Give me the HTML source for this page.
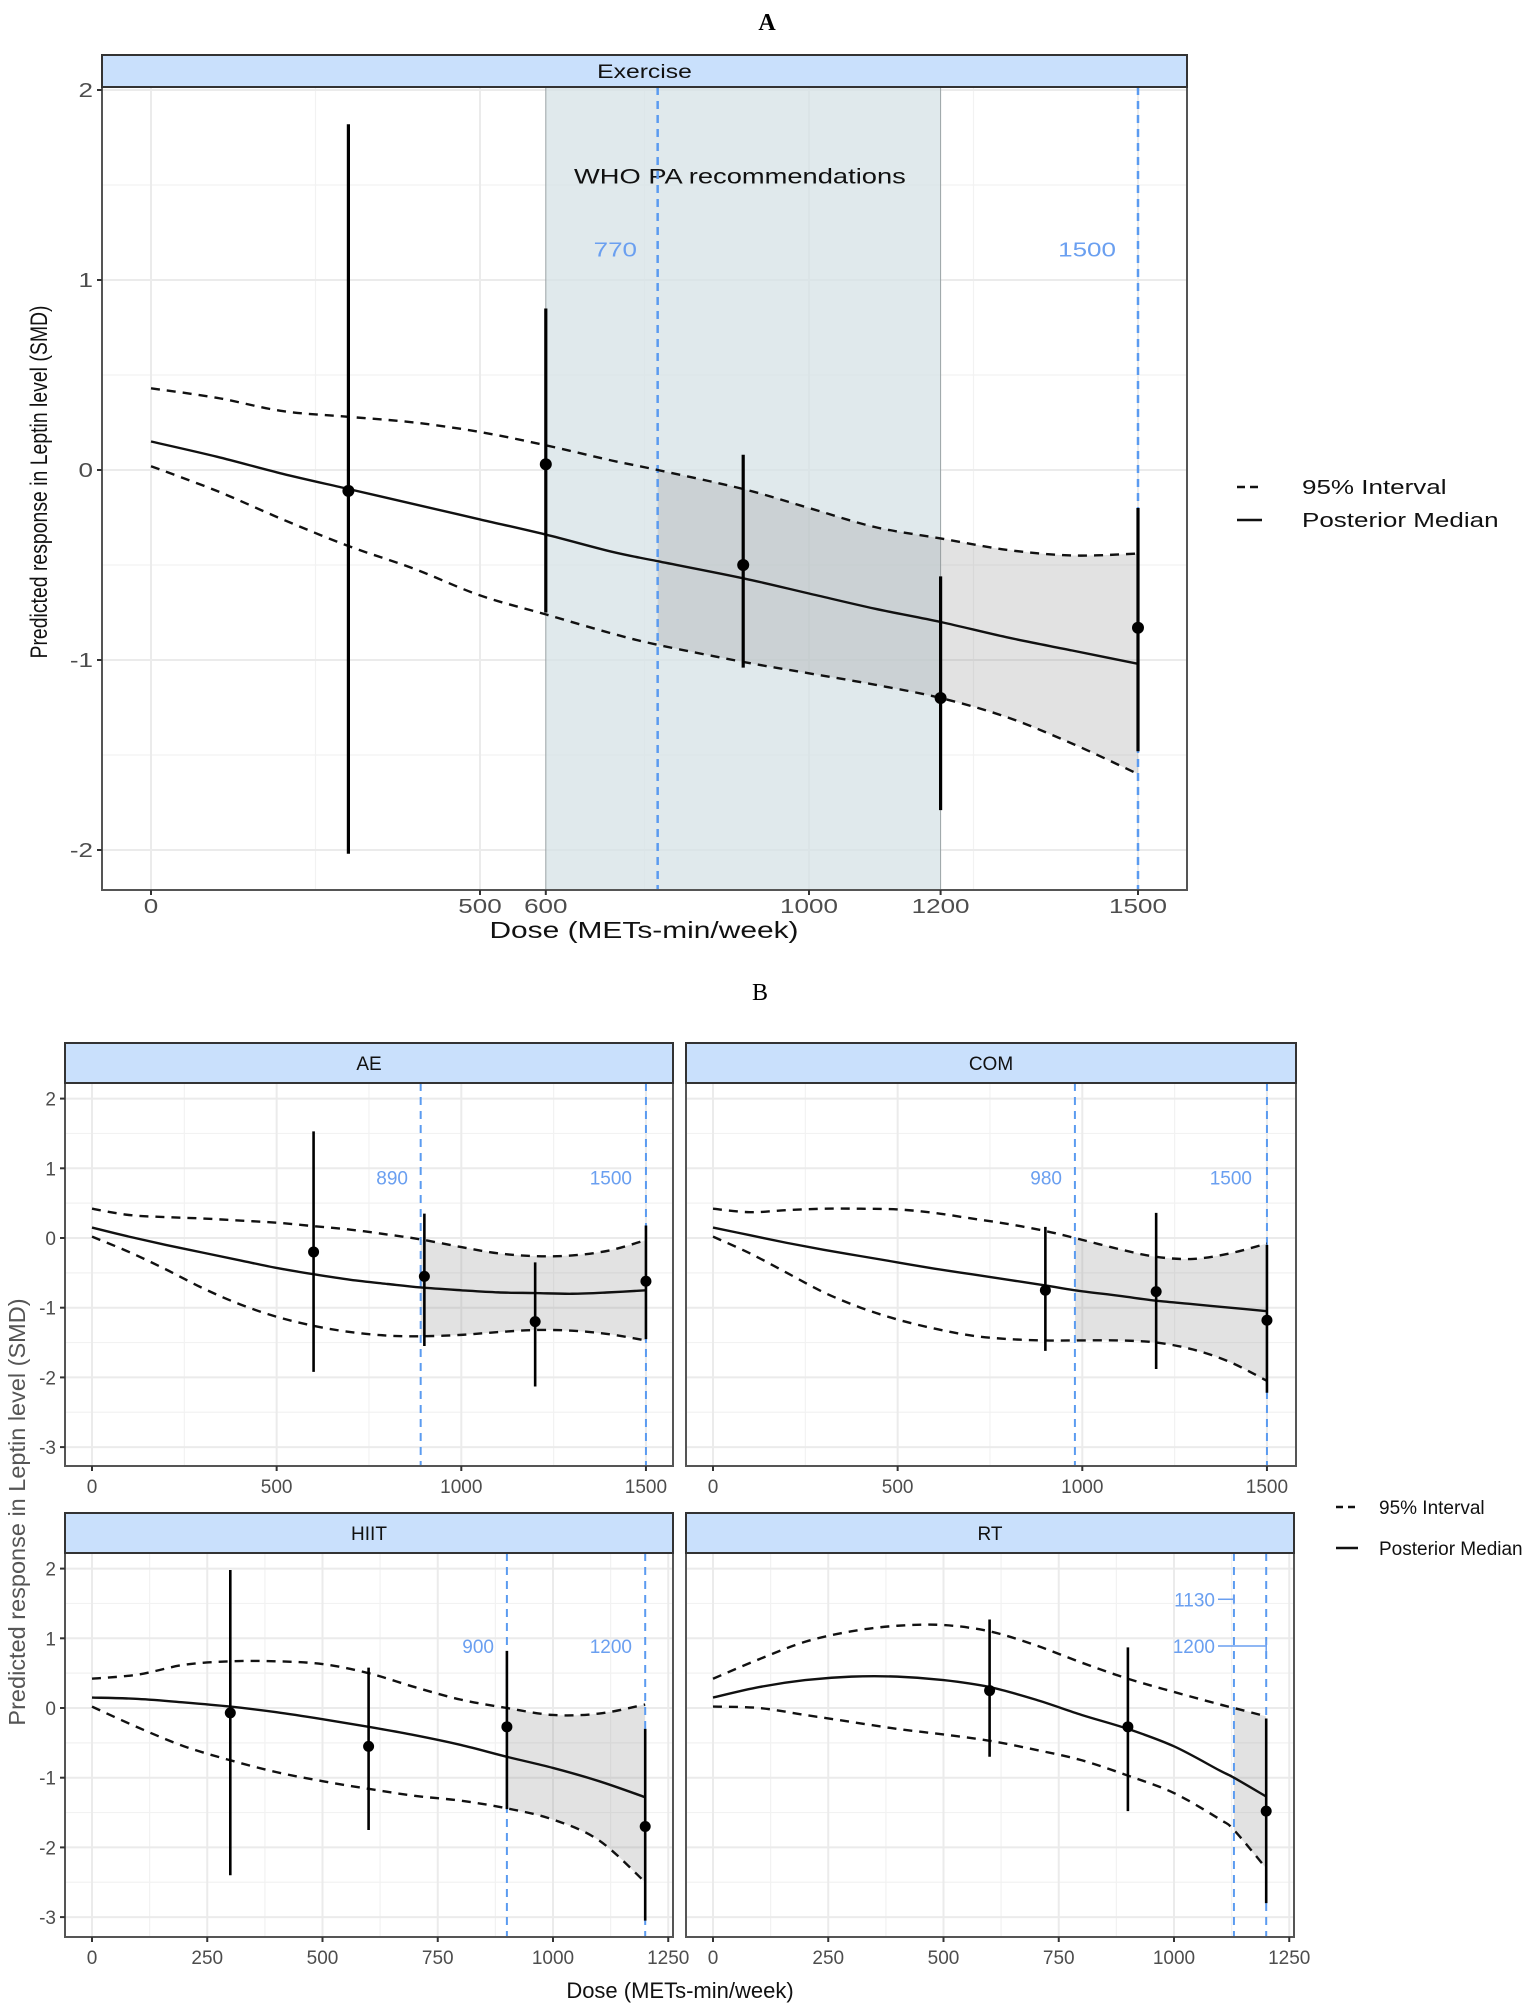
<!DOCTYPE html>
<html><head><meta charset="utf-8"><style>
html,body{margin:0;padding:0;background:#fff;}
svg{display:block;font-family:"Liberation Sans",Arial,sans-serif;}
</style></head><body>
<svg id="chart" width="1535" height="2009" viewBox="0 0 1535 2009" xmlns="http://www.w3.org/2000/svg">
<text x="767" y="30" font-family="Liberation Serif,serif" font-weight="bold" font-size="24" text-anchor="middle">A</text>
<text x="760" y="1000" font-family="Liberation Serif,serif" font-size="24" text-anchor="middle">B</text>
<text transform="translate(47,482) rotate(-90)" font-size="24" fill="#111" text-anchor="middle" textLength="353" lengthAdjust="spacingAndGlyphs">Predicted response in Leptin level (SMD)</text>
<text class="stA" x="644" y="938" font-size="23" fill="#111" text-anchor="middle">Dose (METs-min/week)</text>
<text transform="translate(25,1512) rotate(-90)" font-size="23.5" fill="#555" text-anchor="middle">Predicted response in Leptin level (SMD)</text>
<text x="680" y="1998" font-size="22" fill="#111" text-anchor="middle">Dose (METs-min/week)</text>
<g>
<line x1="1237" y1="487" x2="1262" y2="487" stroke="#111" stroke-width="2.5" stroke-dasharray="8,5"/>
<text class="stA" x="1302" y="494" font-size="20" fill="#111">95% Interval</text>
<line x1="1237" y1="520" x2="1262" y2="520" stroke="#111" stroke-width="2.5"/>
<text class="stA" x="1302" y="527" font-size="20" fill="#111">Posterior Median</text>
</g>
<g>
<line x1="1336" y1="1507" x2="1358" y2="1507" stroke="#111" stroke-width="2.5" stroke-dasharray="7,5"/>
<text x="1379" y="1514" font-size="19" fill="#111">95% Interval</text>
<line x1="1336" y1="1548" x2="1358" y2="1548" stroke="#111" stroke-width="2.5"/>
<text x="1379" y="1555" font-size="19" fill="#111">Posterior Median</text>
</g>
</svg>
<script>
// ---------- Panel A: Exercise ----------
const exDose   = [0,100,200,300,400,500,600,700,770,900,1000,1100,1200,1300,1400,1500];
const exMedian = [0.15,0.07,-0.02,-0.1,-0.18,-0.26,-0.34,-0.43,-0.48,-0.57,-0.65,-0.73,-0.8,-0.88,-0.95,-1.02];
const exUpper  = [0.43,0.38,0.31,0.28,0.25,0.2,0.13,0.05,0.0,-0.1,-0.2,-0.3,-0.36,-0.42,-0.45,-0.44];
const exLower  = [0.02,-0.11,-0.26,-0.4,-0.52,-0.66,-0.76,-0.86,-0.92,-1.01,-1.07,-1.13,-1.2,-1.3,-1.44,-1.6];
const exPtDose = [300,600,900,1200,1500];
const exPtEst  = [-0.11,0.03,-0.5,-1.2,-0.83];
const exPtLo   = [-2.02,-0.75,-1.04,-1.79,-1.48];
const exPtHi   = [1.82,0.85,0.08,-0.56,-0.2];
const exRefs   = [770,1500];
const exWho    = [600,1200];
// ---------- Panel B: AE ----------
const aeDose   = [0,100,200,300,400,500,600,700,800,890,1000,1100,1200,1300,1400,1500];
const aeMedian = [0.15,0.02,-0.1,-0.21,-0.32,-0.43,-0.52,-0.6,-0.66,-0.71,-0.75,-0.78,-0.79,-0.8,-0.78,-0.75];
const aeUpper  = [0.42,0.33,0.3,0.28,0.25,0.22,0.17,0.12,0.05,-0.02,-0.13,-0.22,-0.26,-0.25,-0.18,-0.03];
const aeLower  = [0.02,-0.2,-0.45,-0.72,-0.95,-1.13,-1.26,-1.35,-1.4,-1.41,-1.39,-1.35,-1.32,-1.33,-1.38,-1.47];
const aePtDose = [600,900,1200,1500];
const aePtEst  = [-0.2,-0.55,-1.2,-0.62];
const aePtLo   = [-1.92,-1.55,-2.13,-1.45];
const aePtHi   = [1.53,0.35,-0.35,0.18];
const aeRefs   = [890,1500];
// ---------- Panel B: COM ----------
const comDose   = [0,100,200,300,400,500,600,700,800,900,980,1100,1200,1300,1400,1500];
const comMedian = [0.15,0.04,-0.07,-0.17,-0.26,-0.35,-0.44,-0.52,-0.6,-0.68,-0.75,-0.83,-0.9,-0.95,-1.0,-1.05];
const comUpper  = [0.42,0.37,0.4,0.42,0.42,0.41,0.36,0.28,0.2,0.1,0.0,-0.16,-0.27,-0.3,-0.22,-0.08];
const comLower  = [0.02,-0.22,-0.5,-0.78,-1.0,-1.17,-1.3,-1.4,-1.45,-1.47,-1.47,-1.47,-1.5,-1.6,-1.78,-2.05];
const comPtDose = [900,1200,1500];
const comPtEst  = [-0.75,-0.77,-1.18];
const comPtLo   = [-1.62,-1.88,-2.22];
const comPtHi   = [0.16,0.36,-0.1];
const comRefs   = [980,1500];
// ---------- Panel B: HIIT ----------
const hiitDose   = [0,100,200,300,400,500,600,700,800,900,1000,1100,1200];
const hiitMedian = [0.15,0.13,0.08,0.02,-0.06,-0.16,-0.27,-0.39,-0.53,-0.7,-0.86,-1.05,-1.28];
const hiitUpper  = [0.42,0.48,0.62,0.67,0.67,0.63,0.5,0.3,0.12,0.0,-0.1,-0.08,0.05];
const hiitLower  = [0.02,-0.28,-0.55,-0.75,-0.92,-1.05,-1.16,-1.26,-1.33,-1.44,-1.6,-1.9,-2.5];
const hiitPtDose = [300,600,900,1200];
const hiitPtEst  = [-0.07,-0.55,-0.27,-1.7];
const hiitPtLo   = [-2.4,-1.75,-1.45,-3.05];
const hiitPtHi   = [1.98,0.58,0.82,-0.3];
const hiitRefs   = [900,1200];
// ---------- Panel B: RT ----------
const rtDose   = [0,100,200,300,400,500,600,700,800,900,1000,1100,1130,1200];
const rtMedian = [0.15,0.3,0.4,0.45,0.45,0.4,0.3,0.12,-0.1,-0.3,-0.55,-0.9,-1.0,-1.27];
const rtUpper  = [0.42,0.7,0.95,1.1,1.18,1.19,1.1,0.9,0.65,0.42,0.23,0.05,0.0,-0.12];
const rtLower  = [0.02,0.0,-0.1,-0.2,-0.3,-0.38,-0.47,-0.6,-0.75,-0.97,-1.22,-1.6,-1.75,-2.3];
const rtPtDose = [600,900,1200];
const rtPtEst  = [0.25,-0.27,-1.48];
const rtPtLo   = [-0.7,-1.48,-2.8];
const rtPtHi   = [1.27,0.87,-0.15];
const rtRefs   = [1130,1200];

const NS='http://www.w3.org/2000/svg';
const svg=document.getElementById('chart');
function mk(tag,attrs,parent){const e=document.createElementNS(NS,tag);for(const k in attrs)e.setAttribute(k,attrs[k]);(parent||svg).appendChild(e);return e;}
function catmull(pts){let d='M'+pts[0][0]+','+pts[0][1];for(let i=0;i<pts.length-1;i++){const p0=pts[i-1]||pts[i],p1=pts[i],p2=pts[i+1],p3=pts[i+2]||p2;const c1x=p1[0]+(p2[0]-p0[0])/6,c1y=p1[1]+(p2[1]-p0[1])/6,c2x=p2[0]-(p3[0]-p1[0])/6,c2y=p2[1]-(p3[1]-p1[1])/6;d+=' C'+c1x+','+c1y+' '+c2x+','+c2y+' '+p2[0]+','+p2[1];}return d;}
function interp(xs,ys,x){for(let i=0;i<xs.length-1;i++){if(x>=xs[i]&&x<=xs[i+1]){const t=(x-xs[i])/(xs[i+1]-xs[i]);return ys[i]+t*(ys[i+1]-ys[i]);}}return ys[ys.length-1];}
function stretch(el,f){const w=el.getComputedTextLength();if(w>0){el.setAttribute('textLength',w*f);el.setAttribute('lengthAdjust','spacingAndGlyphs');}}

function panel(c){
  const g=mk('g',{});
  
  
  const X=v=>c.x0+v*c.xs, Y=v=>c.y0-v*c.ys;
  mk('rect',{x:c.left,y:c.top,width:c.right-c.left,height:c.bottom-c.top,fill:'#fff'},g);
  c.yminor.forEach(v=>mk('line',{x1:c.left,x2:c.right,y1:Y(v),y2:Y(v),stroke:'#f2f2f2','stroke-width':1.2},g));
  c.xminor.forEach(v=>mk('line',{x1:X(v),x2:X(v),y1:c.top,y2:c.bottom,stroke:'#f2f2f2','stroke-width':1.2},g));
  c.ymajor.forEach(v=>mk('line',{x1:c.left,x2:c.right,y1:Y(v),y2:Y(v),stroke:'#ebebeb','stroke-width':2},g));
  c.xmajor.forEach(v=>mk('line',{x1:X(v),x2:X(v),y1:c.top,y2:c.bottom,stroke:'#ebebeb','stroke-width':2},g));
  if(c.who){
    const w=mk('rect',{x:X(c.who[0]),y:c.top,width:X(c.who[1])-X(c.who[0]),height:c.bottom-c.top,fill:'#d6e1e5','fill-opacity':0.75,stroke:'#9aa3a6','stroke-width':1},g);
    
    
    const wt=mk('text',{x:X(c.whoLabelX),y:Y(1.55)+8,'font-size':21,fill:'#111','text-anchor':'middle'},g);
    wt.textContent='WHO PA recommendations';
  }
  const r0=c.refs[0], r1=c.refs[1];
  const up=[[X(r0),Y(interp(c.dose,c.upper,r0))]], lo=[[X(r0),Y(interp(c.dose,c.lower,r0))]];
  c.dose.forEach((d,i)=>{if(d>r0&&d<=r1){up.push([X(d),Y(c.upper[i])]);lo.push([X(d),Y(c.lower[i])]);}});
  const rib=mk('path',{d:catmull(up)+' L'+catmull(lo.slice().reverse()).slice(1)+' Z',fill:'#8c8c8c','fill-opacity':0.25},g);
  
  
  c.refs.forEach((v,i)=>{
    const l=mk('line',{x1:X(v),x2:X(v),y1:c.top,y2:c.bottom,stroke:'#5b9bf0','stroke-width':c.refW,'stroke-dasharray':'8,6'},g);
    
    
  });
  c.refLabels.forEach(L=>{
    const t=mk('text',{x:L.tx,y:Y(L.y)+7,'font-size':c.lblSize,fill:'#6a9ff0','text-anchor':'end'},g);
    t.textContent=L.text;
    
    
    if(L.bracket){mk('line',{x1:L.tx+3,x2:X(L.bracket),y1:Y(L.y),y2:Y(L.y),stroke:'#6a9ff0','stroke-width':1.5},g);mk('line',{x1:X(L.bracket),x2:X(L.bracket),y1:Y(L.y)-5,y2:Y(L.y)+5,stroke:'#6a9ff0','stroke-width':1.5},g);}
  });
  const pU=c.dose.map((d,i)=>[X(d),Y(c.upper[i])]), pL=c.dose.map((d,i)=>[X(d),Y(c.lower[i])]), pM=c.dose.map((d,i)=>[X(d),Y(c.median[i])]);
  const cu=mk('path',{d:catmull(pU),fill:'none',stroke:'#111','stroke-width':2.4,'stroke-dasharray':'9,7'},g);
  
  
  const cl=mk('path',{d:catmull(pL),fill:'none',stroke:'#111','stroke-width':2.4,'stroke-dasharray':'9,7'},g);
  
  
  const cm=mk('path',{d:catmull(pM),fill:'none',stroke:'#111','stroke-width':2.4},g);
  
  
  c.ptDose.forEach((d,i)=>{
    const e=mk('line',{x1:X(d),x2:X(d),y1:Y(c.ptLo[i]),y2:Y(c.ptHi[i]),stroke:'#000','stroke-width':c.ebW},g);
    
    
    const p=mk('circle',{cx:X(d),cy:Y(c.ptEst[i]),r:c.ptR,fill:'#000'},g);
    
    
  });
  mk('rect',{x:c.left,y:c.top,width:c.right-c.left,height:c.bottom-c.top,fill:'none',stroke:'#555','stroke-width':2},g);
  const s=mk('rect',{x:c.left,y:c.stripTop,width:c.right-c.left,height:c.top-c.stripTop,fill:'#c9e0fc',stroke:'#333','stroke-width':2},g);
  
  
  const st=mk('text',{x:(c.left+c.right)/2,y:(c.stripTop+c.top)/2+7,'font-size':19,fill:'#111','text-anchor':'middle'},g);
  st.textContent=c.title;
  c.yticks.forEach((v,i)=>{
    mk('line',{x1:c.left-5,x2:c.left,y1:Y(v),y2:Y(v),stroke:'#333','stroke-width':2},g);
    const t=mk('text',{x:c.left-9,y:Y(v)+7,'font-size':c.tickSize,fill:'#4d4d4d','text-anchor':'end'},g);
    t.textContent=c.yLabels[i];
  });
  c.xticks.forEach((v,i)=>{
    mk('line',{x1:X(v),x2:X(v),y1:c.bottom,y2:c.bottom+5,stroke:'#333','stroke-width':2},g);
    const t=mk('text',{x:X(v),y:c.bottom+c.tickSize+c.xLabOff,'font-size':c.tickSize,fill:'#4d4d4d','text-anchor':'middle'},g);
    t.textContent=c.xLabels[i];
  });
  if(c.stretch){g.querySelectorAll('text').forEach(t=>stretch(t,c.stretch));}
}

const yTicksB=[2,1,0,-1,-2,-3], yLabelsB=['2','1','0','-1','-2','-3'];
const yMinorB=[1.5,0.5,-0.5,-1.5,-2.5];
const xTicks1500=[0,500,1000,1500], xLabels1500=['0','500','1000','1500'];
const xTicks1250=[0,250,500,750,1000,1250], xLabels1250=['0','250','500','750','1000','1250'];

panel({name:'panel-exercise',title:'Exercise',left:102,right:1187,stripTop:55,top:87,bottom:890,x0:151,xs:0.658,y0:470,ys:190,
  xmajor:[0,500,1000,1500],xminor:[250,750,1250],ymajor:[2,1,0,-1,-2],yminor:[1.5,0.5,-0.5,-1.5],
  who:exWho,whoLabelX:895,dose:exDose,median:exMedian,upper:exUpper,lower:exLower,
  ptDose:exPtDose,ptEst:exPtEst,ptLo:exPtLo,ptHi:exPtHi,refs:exRefs,refW:2.5,ptR:6,ebW:3.2,lblSize:20,
  refLabels:[{text:'770',y:1.16,tx:637},{text:'1500',y:1.16,tx:1116}],
  yticks:[2,1,0,-1,-2],yLabels:['2','1','0','-1','-2'],xticks:[0,500,600,1000,1200,1500],xLabels:['0','500','600','1000','1200','1500'],tickSize:20,xLabOff:3,stretch:1.3});

panel({name:'panel-ae',title:'AE',left:65,right:673,stripTop:1043,top:1083,bottom:1466,x0:92,xs:0.3693,y0:1238,ys:69.7,
  xmajor:xTicks1500,xminor:[250,750,1250],ymajor:yTicksB,yminor:yMinorB,dose:aeDose,median:aeMedian,upper:aeUpper,lower:aeLower,
  ptDose:aePtDose,ptEst:aePtEst,ptLo:aePtLo,ptHi:aePtHi,refs:aeRefs,refW:2,ptR:5.5,ebW:2.6,lblSize:19,
  refLabels:[{text:'890',y:0.87,tx:408},{text:'1500',y:0.87,tx:632}],
  yticks:yTicksB,yLabels:yLabelsB,xticks:xTicks1500,xLabels:xLabels1500,tickSize:19,xLabOff:8});

panel({name:'panel-com',title:'COM',left:686,right:1296,stripTop:1043,top:1083,bottom:1466,x0:713,xs:0.3693,y0:1238,ys:69.7,
  xmajor:xTicks1500,xminor:[250,750,1250],ymajor:yTicksB,yminor:yMinorB,dose:comDose,median:comMedian,upper:comUpper,lower:comLower,
  ptDose:comPtDose,ptEst:comPtEst,ptLo:comPtLo,ptHi:comPtHi,refs:comRefs,refW:2,ptR:5.5,ebW:2.6,lblSize:19,
  refLabels:[{text:'980',y:0.87,tx:1062},{text:'1500',y:0.87,tx:1252}],
  yticks:[],yLabels:[],xticks:xTicks1500,xLabels:xLabels1500,tickSize:19,xLabOff:8});

panel({name:'panel-hiit',title:'HIIT',left:65,right:673,stripTop:1513,top:1553,bottom:1937,x0:92,xs:0.461,y0:1708,ys:69.7,
  xmajor:xTicks1250,xminor:[125,375,625,875,1125],ymajor:yTicksB,yminor:yMinorB,dose:hiitDose,median:hiitMedian,upper:hiitUpper,lower:hiitLower,
  ptDose:hiitPtDose,ptEst:hiitPtEst,ptLo:hiitPtLo,ptHi:hiitPtHi,refs:hiitRefs,refW:2,ptR:5.5,ebW:2.6,lblSize:19,
  refLabels:[{text:'900',y:0.89,tx:494},{text:'1200',y:0.89,tx:632}],
  yticks:yTicksB,yLabels:yLabelsB,xticks:xTicks1250,xLabels:xLabels1250,tickSize:19,xLabOff:8});

panel({name:'panel-rt',title:'RT',left:686,right:1294,stripTop:1513,top:1553,bottom:1937,x0:713,xs:0.461,y0:1708,ys:69.7,
  xmajor:xTicks1250,xminor:[125,375,625,875,1125],ymajor:yTicksB,yminor:yMinorB,dose:rtDose,median:rtMedian,upper:rtUpper,lower:rtLower,
  ptDose:rtPtDose,ptEst:rtPtEst,ptLo:rtPtLo,ptHi:rtPtHi,refs:rtRefs,refW:2,ptR:5.5,ebW:2.6,lblSize:19,
  refLabels:[{text:'1130',y:1.56,tx:1215,bracket:1130},{text:'1200',y:0.89,tx:1215,bracket:1200}],
  yticks:[],yLabels:[],xticks:xTicks1250,xLabels:xLabels1250,tickSize:19,xLabOff:8});

document.querySelectorAll('text.stA').forEach(t=>stretch(t,1.3));
</script>
</body></html>
